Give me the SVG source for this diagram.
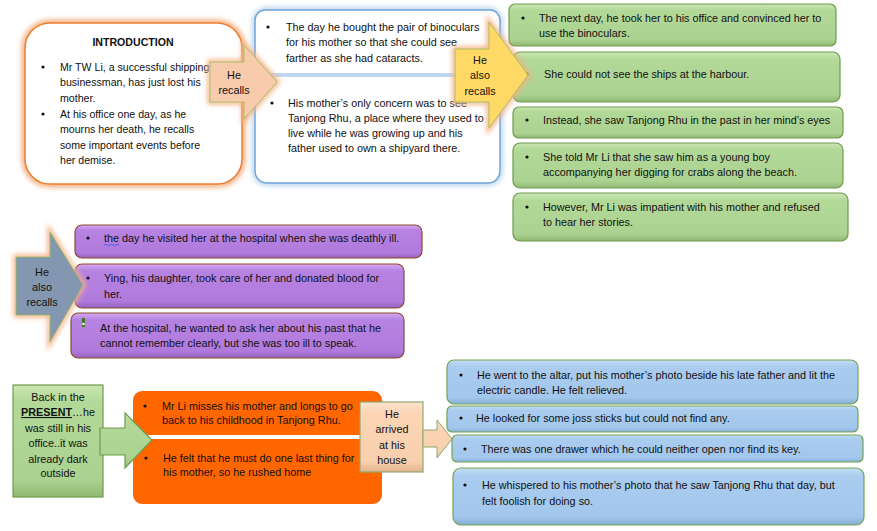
<svg xmlns="http://www.w3.org/2000/svg" width="877" height="531" viewBox="0 0 877 531">
<style>
.t{font-family:"Liberation Sans",Arial,sans-serif;font-size:10.8px;fill:#111}
.i{font-size:10.6px}
.c{text-anchor:middle}
.b{font-weight:bold}
.green{fill:url(#gGreen);stroke:#6F9B4C;stroke-width:1.2}
.purple{fill:url(#gPurple);stroke:#8E4A2E;stroke-width:1.2}
.blue{fill:url(#gBlue);stroke:#74A34F;stroke-width:1.2}
.dot{fill:#111}
</style>
<defs>
<linearGradient id="gGreen" x1="0" y1="0" x2="0" y2="1">
<stop offset="0" stop-color="#C9E6B3"/><stop offset="0.15" stop-color="#B3D999"/><stop offset="0.85" stop-color="#ABD290"/><stop offset="1" stop-color="#8FB872"/>
</linearGradient>
<linearGradient id="gPurple" x1="0" y1="0" x2="0" y2="1">
<stop offset="0" stop-color="#D4A9F2"/><stop offset="0.15" stop-color="#B783E2"/><stop offset="0.85" stop-color="#B07ADC"/><stop offset="1" stop-color="#9462BE"/>
</linearGradient>
<linearGradient id="gBlue" x1="0" y1="0" x2="0" y2="1">
<stop offset="0" stop-color="#C3DDF6"/><stop offset="0.15" stop-color="#A9CCEF"/><stop offset="0.85" stop-color="#A3C7EC"/><stop offset="1" stop-color="#86AED6"/>
</linearGradient>
<linearGradient id="gPeach" x1="0" y1="0" x2="0" y2="1">
<stop offset="0" stop-color="#FDE3CF"/><stop offset="0.15" stop-color="#FBD5B5"/><stop offset="0.85" stop-color="#F9D0AE"/><stop offset="1" stop-color="#E3B38E"/>
</linearGradient>
<filter id="glow" x="-20%" y="-20%" width="140%" height="140%">
<feGaussianBlur stdDeviation="2.5"/>
</filter>
</defs>

<g id="intro">
<rect x="25" y="23" width="217" height="161" rx="25" fill="none" stroke="#F4B183" stroke-width="7" filter="url(#glow)"/>
<rect x="25" y="23" width="217" height="161" rx="25" fill="#fff" stroke="#ED7D31" stroke-width="1.5"/>
<text class="t i c b" x="133" y="46">INTRODUCTION</text>
<circle class="dot" cx="43" cy="67" r="1.6"/>
<text class="t i" x="60" y="71">Mr TW Li, a successful shipping</text>
<text class="t i" x="60" y="86">businessman, has just lost his</text>
<text class="t i" x="60" y="102">mother.</text>
<circle class="dot" cx="43" cy="114" r="1.6"/>
<text class="t i" x="60" y="118">At his office one day, as he</text>
<text class="t i" x="60" y="133">mourns her death, he recalls</text>
<text class="t i" x="60" y="149">some important events before</text>
<text class="t i" x="60" y="164">her demise.</text>
</g>

<g id="binoculars">
<rect x="255" y="10" width="245" height="173" rx="12" fill="none" stroke="#BDD7EE" stroke-width="6" filter="url(#glow)"/>
<rect x="255" y="10" width="245" height="64" rx="10" fill="#fff" stroke="#6FA5DC" stroke-width="1.5"/>
<rect x="255" y="76" width="245" height="107" rx="12" fill="#fff" stroke="#6FA5DC" stroke-width="1.5"/>
<rect x="256" y="73" width="243" height="4" fill="#BDD7EE"/>
<circle class="dot" cx="268" cy="27" r="1.6"/>
<text class="t" x="286" y="31">The day he bought the pair of binoculars</text>
<text class="t" x="286" y="46">for his mother so that she could see</text>
<text class="t" x="286" y="62">farther as she had cataracts.</text>
<circle class="dot" cx="272" cy="103" r="1.6"/>
<text class="t" x="288" y="107">His mother’s only concern was to see</text>
<text class="t" x="288" y="122">Tanjong Rhu, a place where they used to</text>
<text class="t" x="288" y="137">live while he was growing up and his</text>
<text class="t" x="288" y="152">father used to own a shipyard there.</text>
</g>

<g id="green-boxes">
<g id="g1">
<rect class="green" x="509" y="4" width="327" height="42" rx="6"/>
<circle class="dot" cx="523" cy="18" r="1.6"/>
<text class="t" x="539" y="22">The next day, he took her to his office and convinced her to</text>
<text class="t" x="539" y="37">use the binoculars.</text>
</g>
<g id="g2">
<rect class="green" x="513" y="52" width="327" height="50" rx="7"/>
<circle class="dot" cx="527" cy="74" r="1.6"/>
<text class="t" x="544" y="78">She could not see the ships at the harbour.</text>
</g>
<g id="g3">
<rect class="green" x="513" y="107" width="330" height="31" rx="6"/>
<circle class="dot" cx="527" cy="120" r="1.6"/>
<text class="t" x="543" y="124">Instead, she saw Tanjong Rhu in the past in her mind’s eyes</text>
</g>
<g id="g4">
<rect class="green" x="513" y="143" width="330" height="45" rx="7"/>
<circle class="dot" cx="527" cy="157" r="1.6"/>
<text class="t" x="543" y="161">She told Mr Li that she saw him as a young boy</text>
<text class="t" x="543" y="176">accompanying her digging for crabs along the beach.</text>
</g>
<g id="g5">
<rect class="green" x="513" y="193" width="335" height="48" rx="7"/>
<circle class="dot" cx="527" cy="207" r="1.6"/>
<text class="t" x="543" y="211">However, Mr Li was impatient with his mother and refused</text>
<text class="t" x="543" y="226">to hear her stories.</text>
</g>
</g>

<g id="purple-boxes">
<g id="p1">
<rect class="purple" x="75" y="225" width="347" height="33" rx="7"/>
<circle class="dot" cx="88" cy="238" r="1.6"/>
<text class="t" x="104" y="242">the day he visited her at the hospital when she was deathly ill.</text>
<path d="M104,245 q1.5,-1.5 3,0 t3,0 t3,0 t3,0 t3,0" fill="none" stroke="#3355DD" stroke-width="0.8"/>
</g>
<g id="p2">
<rect class="purple" x="75" y="264" width="329" height="44" rx="7"/>
<circle class="dot" cx="88" cy="278" r="1.6"/>
<text class="t" x="104" y="282">Ying, his daughter, took care of her and donated blood for</text>
<text class="t" x="104" y="298">her.</text>
</g>
<g id="p3">
<rect class="purple" x="71" y="313" width="333" height="45" rx="7"/>
<rect x="82" y="318" width="3" height="9" fill="#3A7A1E"/>
<circle cx="83.5" cy="324" r="1.3" fill="#fff"/>
<text class="t" x="100" y="332">At the hospital, he wanted to ask her about his past that he</text>
<text class="t" x="100" y="347">cannot remember clearly, but she was too ill to speak.</text>
</g>
</g>

<g id="present">
<rect class="green" x="13" y="385" width="90" height="112"/>
<text class="t c" x="58" y="401">Back in the</text>
<text class="t c" x="58" y="416"><tspan class="b" text-decoration="underline">PRESENT</tspan>…he</text>
<text class="t c" x="58" y="432">was still in his</text>
<text class="t c" x="58" y="447">office..it was</text>
<text class="t c" x="58" y="463">already dark</text>
<text class="t c" x="58" y="477">outside</text>
</g>

<g id="orange-box">
<rect x="133" y="391" width="249" height="113" rx="9" fill="#FF6600"/>
<rect x="133" y="435" width="249" height="4" fill="#fff"/>
<circle class="dot" cx="145" cy="406" r="1.6"/>
<text class="t" x="162" y="410">Mr Li misses his mother and longs to go</text>
<text class="t" x="162" y="424">back to his childhood in Tanjong Rhu.</text>
<circle class="dot" cx="146" cy="458" r="1.6"/>
<text class="t" x="163" y="462">He felt that he must do one last thing for</text>
<text class="t" x="163" y="476">his mother, so he rushed home</text>
</g>

<g id="arrived">
<rect x="360" y="402" width="63" height="70" fill="url(#gPeach)" stroke="#8FA870" stroke-width="1.2"/>
<text class="t c" x="392" y="418">He</text>
<text class="t c" x="392" y="433">arrived</text>
<text class="t c" x="392" y="449">at his</text>
<text class="t c" x="392" y="464">house</text>
</g>

<g id="blue-boxes">
<g id="b1">
<rect class="blue" x="447" y="360" width="411" height="44" rx="7"/>
<circle class="dot" cx="461" cy="375" r="1.6"/>
<text class="t" x="477" y="379">He went to the altar, put his mother’s photo beside his late father and lit the</text>
<text class="t" x="477" y="394">electric candle. He felt relieved.</text>
</g>
<g id="b2">
<rect class="blue" x="447" y="406" width="411" height="26" rx="5"/>
<circle class="dot" cx="461" cy="418" r="1.6"/>
<text class="t" x="476" y="422">He looked for some joss sticks but could not find any.</text>
</g>
<g id="b3">
<rect class="blue" x="452" y="435" width="411" height="27" rx="5"/>
<circle class="dot" cx="465" cy="449" r="1.6"/>
<text class="t" x="481" y="453">There was one drawer which he could neither open nor find its key.</text>
</g>
<g id="b4">
<rect class="blue" x="453" y="468" width="411" height="57" rx="8"/>
<circle class="dot" cx="465" cy="485" r="1.6"/>
<text class="t" x="482" y="489">He whispered to his mother’s photo that he saw Tanjong Rhu that day, but</text>
<text class="t" x="482" y="505">felt foolish for doing so.</text>
</g>
</g>

<g id="connectors">
<g id="arrow-recalls">
<path d="M210,62 L244,62 L244,45 L277,82 L244,119 L244,102 L210,102 Z" fill="none" stroke="#F4B183" stroke-width="5" filter="url(#glow)"/>
<path d="M210,62 L244,62 L244,45 L277,82 L244,119 L244,102 L210,102 Z" fill="#F8CBAD" stroke="#9BBB59" stroke-width="0.8"/>
<text class="t c" x="234" y="79">He</text>
<text class="t c" x="234" y="94">recalls</text>
</g>
<g id="arrow-also-recalls">
<path d="M455,49 L489,49 L489,22 L528,75 L489,128 L489,102 L455,102 Z" fill="none" stroke="#F4B183" stroke-width="5" filter="url(#glow)"/>
<path d="M455,49 L489,49 L489,22 L528,75 L489,128 L489,102 L455,102 Z" fill="#FFD966" stroke="#9BBB59" stroke-width="0.8"/>
<text class="t c" x="480" y="64">He</text>
<text class="t c" x="480" y="79">also</text>
<text class="t c" x="480" y="95">recalls</text>
</g>
<g id="arrow-also-recalls-2">
<path d="M16,257 L50,257 L50,232 L83,285 L50,342 L50,315 L16,315 Z" fill="none" stroke="#F4B183" stroke-width="5" filter="url(#glow)"/>
<path d="M16,257 L50,257 L50,232 L83,285 L50,342 L50,315 L16,315 Z" fill="#8497B0" stroke="#9BBB59" stroke-width="0.8"/>
<text class="t c" x="42" y="276">He</text>
<text class="t c" x="42" y="291">also</text>
<text class="t c" x="42" y="306">recalls</text>
</g>
<path id="arrow-present" class="green" d="M100,428 L125,428 L125,413 L152,440 L125,468 L125,455 L100,455 Z"/>
<path id="arrow-house" d="M423,430 L437,430 L437,420 L452,439 L437,458 L437,447 L423,447 Z" fill="url(#gPeach)" stroke="#8FA870" stroke-width="1"/>
</g>
</svg>
